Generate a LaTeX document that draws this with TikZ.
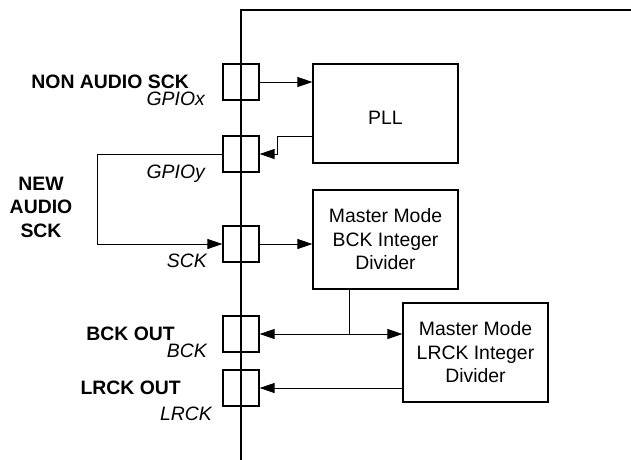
\documentclass[tikz,border=0pt]{standalone}
\usepackage{fontspec}
\setmainfont{Liberation Sans}
\usetikzlibrary{arrows.meta}
\tikzset{
  chip/.style={line width=2.2pt, line cap=rect},
  pin/.style={draw, line width=1.2pt, minimum width=36pt, minimum height=36pt, inner sep=0pt},
  block/.style={draw, line width=1.2pt, minimum width=145pt, minimum height=99pt, inner sep=0pt, align=center,
    font=\fontsize{19.4pt}{23.5pt}\selectfont},
  conn/.style={line width=1pt},
  arr/.style={conn, -{Triangle[length=15pt,width=10pt]}},
  blab/.style={font=\fontsize{19.4pt}{23.5pt}\selectfont\bfseries, inner sep=0pt},
  ilab/.style={font=\fontsize{19.4pt}{23.5pt}\selectfont\itshape, inner sep=0pt, anchor=base east},
}
\begin{document}
\begin{tikzpicture}[x=1pt,y=-1pt]
\useasboundingbox (0,0) rectangle (631,459);
% chip outline
\draw[chip] (241,460) -- (241,10) -- (632,10);
% pins
\node[pin] (gx) at (241,82) {};
\node[pin] (gy) at (241,154) {};
\node[pin] (sck) at (241,244) {};
\node[pin] (bck) at (241,334) {};
\node[pin] (lr) at (241,388) {};
% blocks
\node[block, text height=21pt, text depth=0pt] (pll) at (385.5,113.5) {PLL};
\node[block] (bdiv) at (385.5,239.5) {Master Mode\\BCK Integer\\Divider};
\node[block] (ldiv) at (475.5,352.5) {Master Mode\\LRCK Integer\\Divider};
% connectors
\draw[arr] (gx.east) -- (pll.west |- gx.east);
\coordinate (pllout) at (313,136);
\coordinate (bend) at (277,136);
\draw[arr] (pllout) -- (bend) |- (gy.east);
\coordinate (loop) at (97,154);
\draw[arr] (gy.west) -- (loop) |- (sck.west);
\draw[arr] (sck.east) -- (bdiv.west |- sck.east);
\coordinate (j) at (349,334);
\draw[conn] (j |- bdiv.south) -- (j);
\draw[arr] (j) -- (bck.east);
\draw[arr] (j) -- (ldiv.west |- j);
\draw[arr] (ldiv.west |- lr.east) -- (lr.east);
% labels
\node[blab, anchor=base east] (l1) at (189,88) {NON AUDIO SCK};
\node[ilab] (l2) at (205,105) {GPIOx};
\node[ilab] (l3) at (205,178) {GPIOy};
\node[blab, align=center, anchor=center] (l4) at (41,207) {NEW\\AUDIO\\SCK};
\node[ilab] (l5) at (207,267) {SCK};
\node[blab, anchor=base east] (l6) at (175,340) {BCK OUT};
\node[ilab] (l7) at (207,357) {BCK};
\node[blab, anchor=base east] (l8) at (181,394) {LRCK OUT};
\node[ilab] (l9) at (212,420) {LRCK};
\end{tikzpicture}
\end{document}
